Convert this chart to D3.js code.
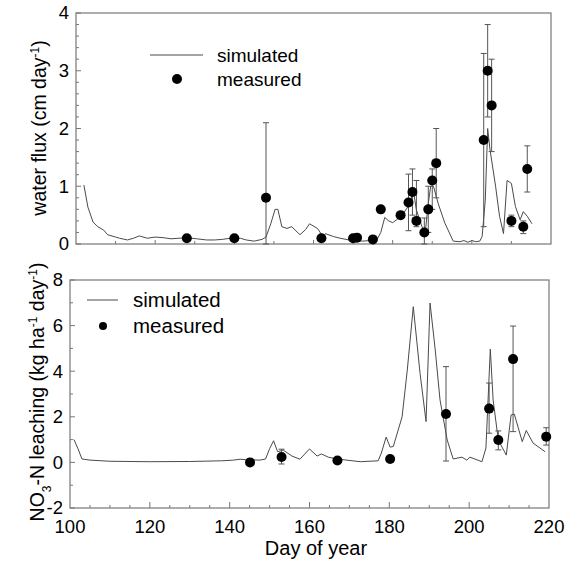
<!DOCTYPE html>
<html>
<head>
<meta charset="utf-8">
<script src="https://cdn.jsdelivr.net/npm/d3@7"></script>
<style>
    body { margin: 0; background: #fff; }
    svg { display: block; font-family: "Liberation Sans", Arial, Helvetica, sans-serif; }
</style>
</head>
<body>
<svg id="chart" width="574" height="565"></svg>
<script>
(function () {

    // Water flux, simulated (day, cm/day)
    const fluxSimDays = [102, 103, 104.3, 105.5, 107, 108, 110, 111, 113, 114.5, 116, 118, 120, 122, 124, 126, 128, 130.5, 133, 135, 137, 139, 141.5, 143, 145, 147, 148, 149.2, 150.3, 151, 152, 153.3, 154.5, 156.6, 158, 159, 161, 162.5, 163, 165, 166.7, 169, 172.5, 176, 177, 178, 179, 180, 181, 182.4, 184.4, 185.2, 186, 187.4, 188.2, 189, 189.6, 190.3, 191.5, 193.2, 195.3, 197, 198, 199, 200, 201, 202, 202.6, 203.4, 204, 204.6, 206, 207, 208, 208.9, 210, 211, 212.2, 213, 214, 215.2];
    const fluxSimValues = [1.02, 0.64, 0.38, 0.3, 0.24, 0.16, 0.12, 0.1, 0.07, 0.1, 0.14, 0.1, 0.12, 0.11, 0.09, 0.1, 0.11, 0.09, 0.07, 0.07, 0.08, 0.1, 0.1, 0.07, 0.05, 0.08, 0.12, 0.35, 0.6, 0.6, 0.3, 0.27, 0.3, 0.16, 0.25, 0.35, 0.27, 0.12, 0.18, 0.13, 0.1, 0.07, 0.05, 0.07, 0.2, 0.46, 0.4, 0.37, 0.42, 0.5, 0.7, 0.93, 0.59, 0.3, 0.18, 0.7, 1.0, 1.0, 0.7, 0.36, 0.05, 0.04, 0.06, 0.03, 0.06, 0.04, 0.05, 0.13, 0.76, 2.0, 1.63, 1.0, 0.48, 0.18, 1.1, 1.05, 0.65, 0.42, 0.56, 0.48, 0.35];

    // Water flux, measured (day, value, error low, error high; null = no bar)
    const fluxObsDays = [128, 140, 148, 162, 170, 171, 175, 177, 182, 184, 185, 186, 188, 189, 190, 191, 203, 204, 205, 210, 213, 214];
    const fluxObsValues = [0.1, 0.1, 0.8, 0.1, 0.1, 0.11, 0.08, 0.6, 0.5, 0.72, 0.9, 0.4, 0.2, 0.6, 1.1, 1.4, 1.8, 3.0, 2.4, 0.4, 0.3, 1.3];
    const fluxObsLow = [null, null, 0, null, null, null, null, null, null, 0.23, 0.5, 0.3, 0.0, 0.2, 0.6, 0.8, 0.3, 2.2, 1.6, 0.3, 0.18, 0.9];
    const fluxObsHigh = [null, null, 2.1, null, null, null, null, null, null, 1.21, 1.3, 1.1, 0.45, 1.0, 1.3, 2.0, 3.3, 3.8, 3.2, 0.5, 0.4, 1.7];

    // NO3-N leaching, simulated (day, kg/ha/day)
    const no3SimDays = [101, 102, 103, 105, 110, 120, 130, 138, 141, 142.6, 144, 147.6, 149, 150, 151, 152, 153.4, 155.6, 157.6, 160, 161.9, 163, 164.7, 166.9, 172.7, 177.2, 178, 179.2, 180.2, 181, 183.2, 184.5, 186, 187.7, 189.2, 190.2, 191.5, 192.7, 194.5, 196, 198.2, 199.4, 200.2, 203.2, 204.2, 205.3, 206, 207.3, 209.3, 210.5, 211.3, 213.3, 214.3, 216, 219];
    const no3SimValues = [1.0, 0.6, 0.15, 0.1, 0.05, 0.03, 0.04, 0.07, 0.1, 0.14, 0.12, 0.1, 0.15, 0.6, 0.95, 0.47, 0.54, 0.28, 0.14, 0.59, 0.28, 0.37, 0.23, 0.15, 0.03, 0.07, 0.41, 1.11, 0.67, 0.7, 2.0, 4.05, 6.83, 3.9, 1.79, 6.99, 4.93, 2.74, 0.98, 0.15, 0.23, 0.1, 0.23, 0.03, 0.63, 4.97, 2.74, 0.98, 0.32, 2.08, 2.12, 0.91, 1.4, 0.85, 0.47];

    // NO3-N leaching, measured
    const no3ObsDays = [145.1, 153, 167, 180.2, 194.2, 205, 207.3, 211, 219.3];
    const no3ObsValues = [0.0, 0.24, 0.08, 0.15, 2.12, 2.36, 0.98, 4.53, 1.13];
    const no3ObsLow = [null, -0.07, null, null, 0.06, 1.28, 0.55, 1.35, 0.76];
    const no3ObsHigh = [null, 0.58, null, null, 4.2, 3.48, 1.38, 5.98, 1.52];

    const fluxTickLabels = [0, 1, 2, 3, 4];
    const no3TickLabels = [-2, 0, 2, 4, 6, 8];
    const dayTickLabels = [100, 120, 140, 160, 180, 200, 220];

    const svg = d3.select("#chart");
    const axisColor = "#777";
    const lineColor = "#4a4a4a";

    const zip = (days, vals) => days.map((d, i) => ({ day: d, value: vals[i] }));
    const zipObs = (days, vals, lo, hi) => days.map((d, i) => ({ day: d, value: vals[i], lo: lo[i], hi: hi[i] }));

    // Draws one framed panel with inside ticks, simulated line and measured points
    const drawPanel = ((cfg) => {
        const x = d3.scaleLinear().domain([100, 220]).range([cfg.left, cfg.right]);
        const y = d3.scaleLinear().domain(cfg.yDomain).range([cfg.bottom, cfg.top]);
        const g = svg.append("g");

        // frame
        g.append("rect")
            .attr("x", cfg.left)
            .attr("y", cfg.top)
            .attr("width", cfg.right - cfg.left)
            .attr("height", cfg.bottom - cfg.top)
            .attr("fill", "none")
            .attr("stroke", axisColor)
            .attr("stroke-width", 1.2);

        // x ticks (inside, pointing up)
        g.selectAll(".xtick")
            .data(d3.range(100 + cfg.xStep, 220, cfg.xStep))
            .enter().append("line")
            .attr("x1", (d) => x(d))
            .attr("x2", (d) => x(d))
            .attr("y1", cfg.bottom)
            .attr("y2", (d) => cfg.bottom - (d % 20 === 0 ? cfg.xMajorLen : 3))
            .attr("stroke", axisColor);

        // y ticks (inside, pointing right)
        const yTicks = d3.range(cfg.yDomain[0], cfg.yDomain[1] + 1e-9, cfg.yStep);
        g.selectAll(".ytick")
            .data(yTicks)
            .enter().append("line")
            .attr("x1", cfg.left)
            .attr("x2", (d) => cfg.left + (Math.abs(d / cfg.yMajor - Math.round(d / cfg.yMajor)) < 1e-6 ? 5 : 3))
            .attr("y1", (d) => y(d))
            .attr("y2", (d) => y(d))
            .attr("stroke", axisColor);

        g.selectAll(".ylabel")
            .data(cfg.yLabels)
            .enter().append("text")
            .attr("x", cfg.left - 7)
            .attr("y", (d) => y(d))
            .attr("dy", "0.35em")
            .attr("text-anchor", "end")
            .attr("font-size", 18.5)
            .attr("fill", "#000")
            .text((d) => d);

        // simulated line
        const line = d3.line()
            .x((d) => x(d.day))
            .y((d) => y(d.value));
        g.append("path")
            .datum(cfg.sim)
            .attr("d", line)
            .attr("fill", "none")
            .attr("stroke", lineColor)
            .attr("stroke-width", 1);

        // error bars
        const withErr = cfg.obs.filter((d) => d.lo !== null);
        const eb = g.selectAll(".err")
            .data(withErr)
            .enter().append("g")
            .attr("stroke", "#555")
            .attr("stroke-width", 1);
        eb.append("line")
            .attr("x1", (d) => x(d.day)).attr("x2", (d) => x(d.day))
            .attr("y1", (d) => y(d.lo)).attr("y2", (d) => y(d.hi));
        eb.append("line")
            .attr("x1", (d) => x(d.day) - 3).attr("x2", (d) => x(d.day) + 3)
            .attr("y1", (d) => y(d.hi)).attr("y2", (d) => y(d.hi));
        eb.append("line")
            .attr("x1", (d) => x(d.day) - 3).attr("x2", (d) => x(d.day) + 3)
            .attr("y1", (d) => y(d.lo)).attr("y2", (d) => y(d.lo));

        // measured points
        g.selectAll(".obs")
            .data(cfg.obs)
            .enter().append("circle")
            .attr("cx", (d) => x(d.day))
            .attr("cy", (d) => y(d.value))
            .attr("r", cfg.dotR)
            .attr("fill", "#000");

        return { x: x, y: y, g: g };
    });

    const top = drawPanel({
        left: 76, right: 551, top: 13, bottom: 244,
        yDomain: [0, 4], yStep: 0.2, yMajor: 1, yLabels: fluxTickLabels,
        xStep: 10, xMajorLen: 4,
        sim: zip(fluxSimDays, fluxSimValues),
        obs: zipObs(fluxObsDays, fluxObsValues, fluxObsLow, fluxObsHigh),
        dotR: 5
    });

    const bottom = drawPanel({
        left: 70, right: 549, top: 280, bottom: 508,
        yDomain: [-2, 8], yStep: 1, yMajor: 2, yLabels: no3TickLabels,
        xStep: 5, xMajorLen: 6,
        sim: zip(no3SimDays, no3SimValues),
        obs: zipObs(no3ObsDays, no3ObsValues, no3ObsLow, no3ObsHigh),
        dotR: 5
    });

    // x tick labels on the bottom panel
    svg.selectAll(".xlabel")
        .data(dayTickLabels)
        .enter().append("text")
        .attr("x", (d) => bottom.x(d))
        .attr("y", 533)
        .attr("text-anchor", "middle")
        .attr("font-size", 18.5)
        .text((d) => d);

    svg.append("text")
        .attr("x", 316)
        .attr("y", 555)
        .attr("text-anchor", "middle")
        .attr("font-size", 20)
        .text("Day of year");

    // y titles
    const t1 = svg.append("text")
        .attr("transform", "translate(46,128) rotate(-90)")
        .attr("text-anchor", "middle")
        .attr("font-size", 19.5);
    t1.append("tspan").text("water flux (cm day");
    t1.append("tspan").attr("font-size", 12).attr("baseline-shift", "super").text("-1");
    t1.append("tspan").text(")");

    const t2 = svg.append("text")
        .attr("transform", "translate(44,392) rotate(-90)")
        .attr("text-anchor", "middle")
        .attr("font-size", 19.5);
    t2.append("tspan").text("NO");
    t2.append("tspan").attr("font-size", 12).attr("baseline-shift", "sub").text("3");
    t2.append("tspan").text("-N leaching (kg ha");
    t2.append("tspan").attr("font-size", 12).attr("baseline-shift", "super").text("-1");
    t2.append("tspan").text(" day");
    t2.append("tspan").attr("font-size", 12).attr("baseline-shift", "super").text("-1");
    t2.append("tspan").text(")");

    // legends
    const legend = ((lx1, lx2, ly, dotX, dotY, tx, dotR, fs) => {
        svg.append("line")
            .attr("x1", lx1).attr("x2", lx2)
            .attr("y1", ly).attr("y2", ly)
            .attr("stroke", lineColor);
        svg.append("text")
            .attr("x", tx).attr("y", ly)
            .attr("dy", "0.35em")
            .attr("font-size", fs)
            .text("simulated");
        svg.append("circle")
            .attr("cx", dotX).attr("cy", dotY)
            .attr("r", dotR)
            .attr("fill", "#000");
        svg.append("text")
            .attr("x", tx).attr("y", dotY)
            .attr("dy", "0.35em")
            .attr("font-size", fs)
            .text("measured");
    });
    legend(150, 203, 55, 177, 79, 217, 5, 19);
    legend(87, 118, 300, 103, 326, 133, 4, 20.5);
})();
</script>
</body>
</html>
